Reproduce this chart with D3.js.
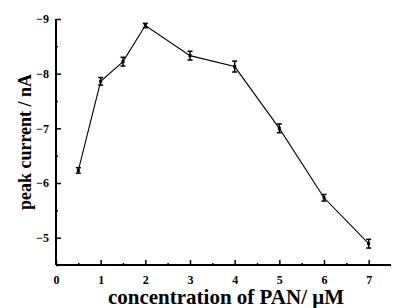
<!DOCTYPE html>
<html>
<head>
<meta charset="utf-8">
<script src="https://cdn.jsdelivr.net/npm/d3@7"></script>
<style>
  body { margin: 0; background: #fff; }
  text { font-family: "Liberation Serif", "Times New Roman", serif; font-weight: bold; }
</style>
</head>
<body>
<svg width="393" height="308"></svg>
<script>
const conc = [0.5, 1, 1.5, 2, 3, 4, 5, 6, 7]
const current = [-6.23, -7.86, -8.22, -8.88, -8.33, -8.13, -7.0, -5.73, -4.89]
const errs = [0.05, 0.07, 0.08, 0.04, 0.08, 0.1, 0.08, 0.06, 0.08]
const xTicks = [0, 1, 2, 3, 4, 5, 6, 7]
const yTicks = [-9, -8, -7, -6, -5]

const svg = d3.select('svg')
const mLeft = 56, mTop = 19, mRight = 391, mBottom = 265

const x = d3.scaleLinear().domain([0, 7.5]).range([mLeft, mRight])
const y = d3.scaleLinear().domain([-4.5, -9]).range([mBottom, mTop])

// axes, ticks inside
const xAxis = d3.axisTop(x).tickValues(xTicks).tickSize(5).tickFormat(d3.format('d'))
const xMinor = d3.axisTop(x).tickValues(d3.range(0.5, 7.5, 1)).tickSize(2).tickFormat('')
const yAxis = d3.axisRight(y).tickValues(yTicks).tickSize(5).tickFormat(d3.format('d'))
const yMinor = d3.axisRight(y).tickValues([-8.5, -7.5, -6.5, -5.5, -4.5]).tickSize(2).tickFormat('')

const gx = svg.append('g').attr('transform', `translate(0,${mBottom})`).call(xAxis)
svg.append('g').attr('transform', `translate(0,${mBottom})`).call(xMinor).select('.domain').remove()
const gy = svg.append('g').attr('transform', `translate(${mLeft},0)`).call(yAxis)
svg.append('g').attr('transform', `translate(${mLeft},0)`).call(yMinor).select('.domain').remove()

gx.select('.domain').attr('d', `M${mLeft},0H${mRight}`)
gy.select('.domain').attr('d', `M0,${mTop}V${mBottom}`)
svg.selectAll('.domain').attr('stroke', '#000').attr('stroke-width', 2)
svg.selectAll('.tick line').attr('stroke', '#000').attr('stroke-width', 1.5)

gx.selectAll('.tick text').attr('y', 10).attr('dy', '0.71em').attr('font-size', 12)
gy.selectAll('.tick text').attr('x', -7).attr('text-anchor', 'end').attr('font-size', 12)
svg.selectAll('.tick text').attr('font-family', '"Liberation Serif", serif').attr('font-weight', 'bold').attr('fill', '#000')

// line
svg.append('path')
  .datum(conc.map((c, i) => [c, current[i]]))
  .attr('fill', 'none')
  .attr('stroke', '#000')
  .attr('stroke-width', 1.1)
  .attr('d', d3.line().x(d => x(d[0])).y(d => y(d[1])))

// error bars
const eb = svg.append('g')
conc.forEach(function (c, i) {
  const cx = x(c), y1 = y(current[i] - errs[i]), y2 = y(current[i] + errs[i])
  eb.append('line').attr('x1', cx).attr('x2', cx).attr('y1', y1).attr('y2', y2)
    .attr('stroke', '#000').attr('stroke-width', 1.5)
  ;[y1, y2].forEach(function (yy) {
    eb.append('line').attr('x1', cx - 2.5).attr('x2', cx + 2.5).attr('y1', yy).attr('y2', yy)
      .attr('stroke', '#000').attr('stroke-width', 1.5)
  })
  eb.append('rect').attr('x', cx - 1.5).attr('y', y(current[i]) - 1.5)
    .attr('width', 3).attr('height', 3).attr('fill', '#000')
})

// titles
svg.append('text')
  .attr('x', 226).attr('y', 304)
  .attr('text-anchor', 'middle')
  .attr('font-size', 21)
  .text('concentration of PAN/ μM')

svg.append('text')
  .attr('transform', 'translate(31,142) rotate(-90)')
  .attr('text-anchor', 'middle')
  .attr('font-size', 18)
  .text('peak current / nA')
</script>
</body>
</html>
